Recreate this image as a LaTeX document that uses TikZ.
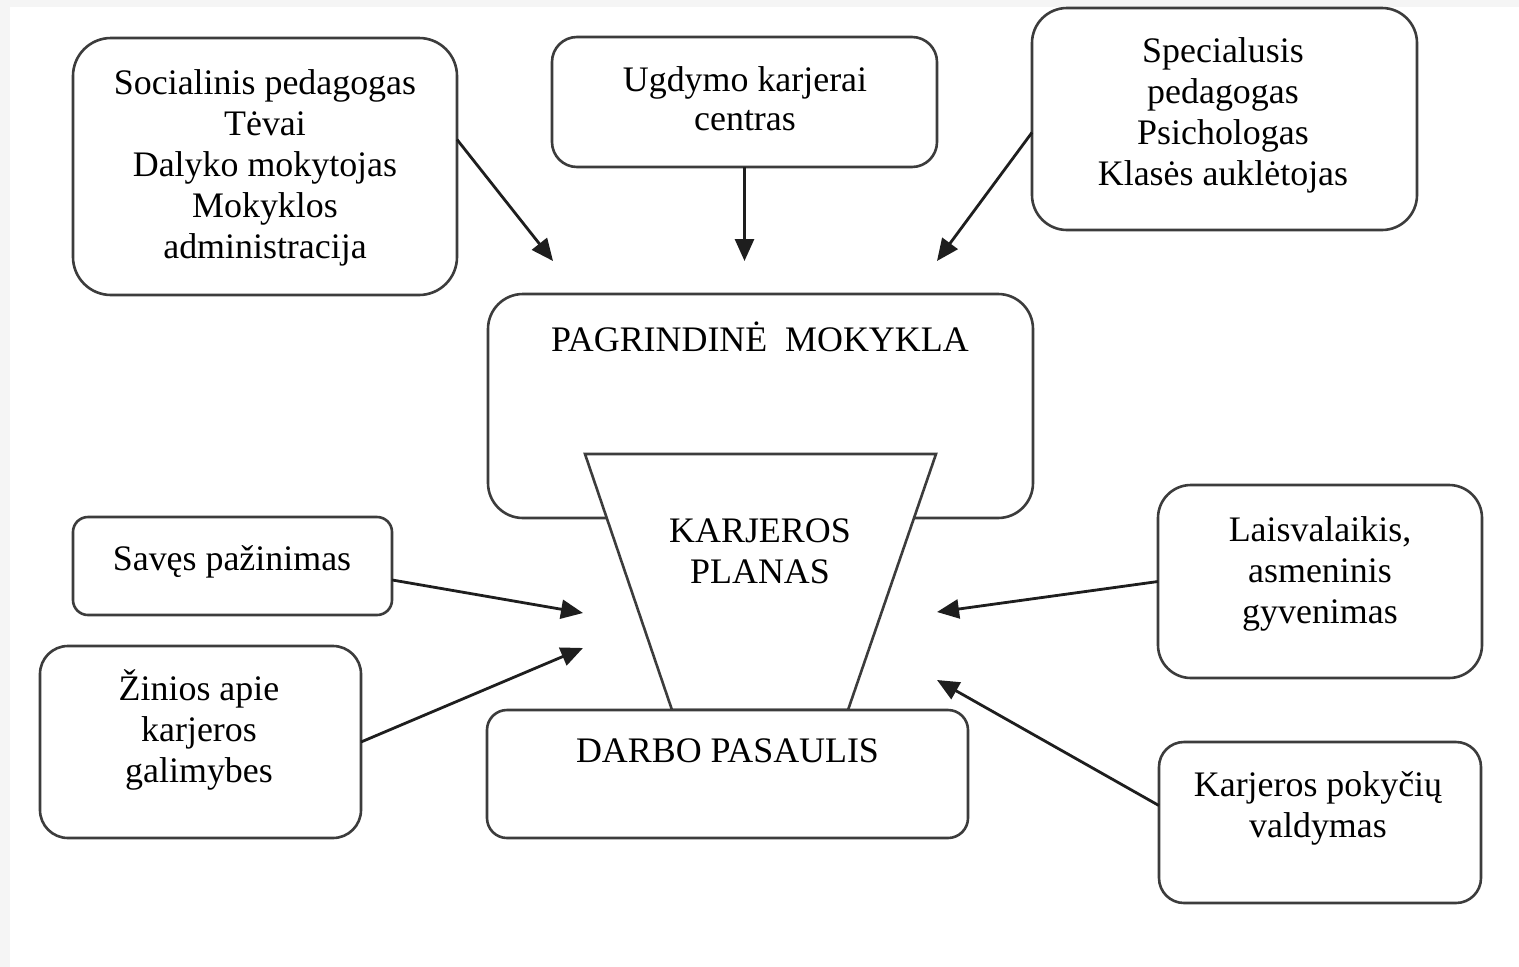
\documentclass[tikz,border=0pt]{standalone}
\usepackage{fontspec}
\setmainfont{Liberation Serif}
\usetikzlibrary{arrows.meta}
\definecolor{bggray}{HTML}{F5F5F5}
\definecolor{boxline}{HTML}{3C3C3C}
\definecolor{arrline}{HTML}{1E1E1E}
\tikzset{
  box/.style={rectangle, draw=boxline, line width=2.6pt, fill=white, inner sep=0pt, outer sep=0pt},
  lbl/.style={font=\fontsize{35.9}{41}\selectfont, align=center, anchor=base, inner sep=0pt, text=black},
  arr/.style={draw=arrline, line width=2.8pt, -{Triangle[length=22pt,width=19pt]}},
}
\begin{document}
\begin{tikzpicture}[x=1pt,y=-1pt]
\useasboundingbox (0,0) rectangle (1519,967);
\fill[bggray] (0,0) rectangle (1519,967);
\fill[white] (10,7) rectangle (1519,967);

% boxes
\node[box, rounded corners=38pt, minimum width=384pt, minimum height=257pt] (soc) at (265,166.5) {};
\node[box, rounded corners=25pt, minimum width=385pt, minimum height=130pt] (ugd) at (744.5,102) {};
\node[box, rounded corners=35pt, minimum width=385pt, minimum height=222pt] (spec) at (1224.5,119) {};
\node[box, rounded corners=35pt, minimum width=545pt, minimum height=224pt] (pag) at (760.5,406) {};
\filldraw[fill=white, draw=boxline, line width=2.6pt, line join=miter] (585,454) -- (936,454) -- (848,710) -- (672,710) -- cycle;
\node[box, rounded corners=20pt, minimum width=481pt, minimum height=128pt] (darbo) at (727.5,774) {};
\node[box, rounded corners=15pt, minimum width=319pt, minimum height=98pt] (saves) at (232.5,566) {};
\node[box, rounded corners=28pt, minimum width=321pt, minimum height=192pt] (zin) at (200.5,742) {};
\node[box, rounded corners=33pt, minimum width=324pt, minimum height=193pt] (lais) at (1320,581.5) {};
\node[box, rounded corners=25pt, minimum width=322pt, minimum height=161pt] (kpok) at (1320,822.5) {};

% texts (anchor=base is the baseline of the last line)
\node[lbl] (tsoc) at (265,258) {Socialinis pedagogas\\Tėvai\\Dalyko mokytojas\\Mokyklos\\administracija};
\node[lbl, font=\fontsize{35.9}{39}\selectfont] (tugd) at (745,130) {Ugdymo karjerai\\centras};
\node[lbl] (tspec) at (1223,185) {Specialusis\\pedagogas\\Psichologas\\Klasės auklėtojas};
\node[lbl] (tpag) at (760,351) {PAGRINDINĖ\ \ MOKYKLA};
\node[lbl] (tkarj) at (760,583) {KARJEROS\\PLANAS};
\node[lbl] (tdarbo) at (727.5,762) {DARBO PASAULIS};
\node[lbl] (tsav) at (232,570) {Savęs pažinimas};
\node[lbl] (tzin) at (199,782) {Žinios apie\\karjeros\\galimybes};
\node[lbl] (tlais) at (1320,623.5) {Laisvalaikis,\\asmeninis\\gyvenimas};
\node[lbl] (tkpok) at (1318,837) {Karjeros pokyčių\\valdymas};

% arrow tips
\coordinate (aSoc) at (553,261);
\coordinate (aUgd) at (744.5,261);
\coordinate (aSpec) at (937,261);
\coordinate (aSav) at (583,613);
\coordinate (aZin) at (583,648);
\coordinate (aLais) at (937,612);
\coordinate (aKpok) at (937,680);

\draw[arr] (soc.8.7) -- (aSoc);
\draw[arr] (ugd.south) -- (aUgd);
\draw[arr] (spec.184.2) -- (aSpec);
\draw[arr] (saves.-5.7) -- (aSav);
\draw[arr] (zin.east) -- (aZin);
\draw[arr] (lais.180.5) -- (aLais);
\draw[arr] (kpok.174.2) -- (aKpok);
\end{tikzpicture}
\end{document}
